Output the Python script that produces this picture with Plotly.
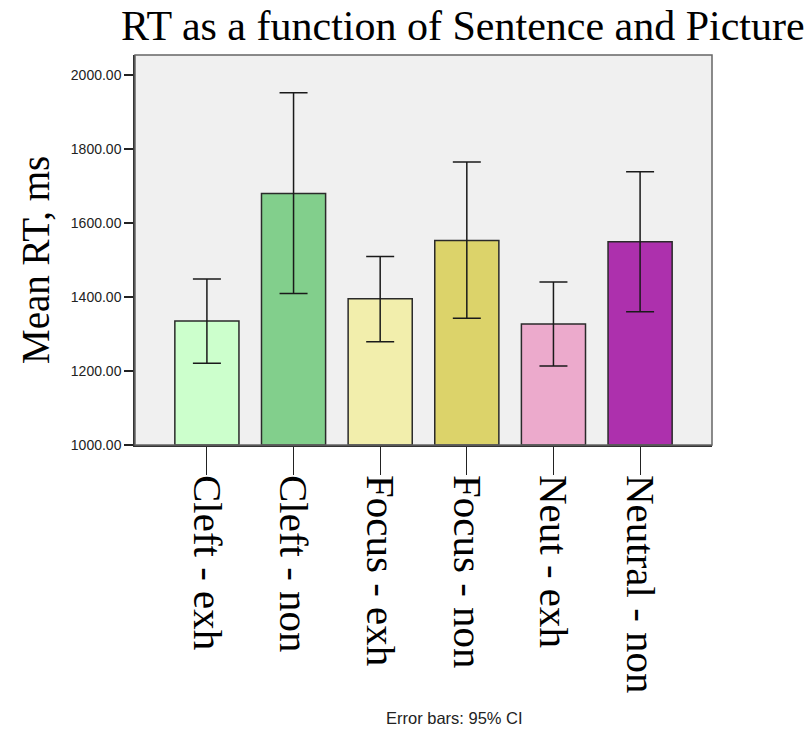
import plotly.graph_objects as go

# Mean reaction times per Sentence/Picture condition, with 95% CI bounds
conditions = ["Cleft - exh", "Cleft - non", "Focus - exh", "Focus - non", "Neut - exh", "Neutral - non"]
mean_rt = [1335, 1679, 1395, 1552, 1327, 1549]
ci_upper = [1448, 1951, 1509, 1764, 1440, 1738]
ci_lower = [1221, 1409, 1279, 1342, 1213, 1360]
bar_colors = ["#ccffcc", "#82cf8c", "#f2eeac", "#dcd36a", "#ecaacc", "#ad30ad"]
y_ticks = [1000, 1200, 1400, 1600, 1800, 2000]

err_plus = [u - m for u, m in zip(ci_upper, mean_rt)]
err_minus = [m - l for m, l in zip(mean_rt, ci_lower)]

fig = go.Figure()
fig.add_trace(go.Bar(
    x=list(range(len(conditions))),
    y=[m - 1000 for m in mean_rt],
    base=1000,
    width=0.74,
    marker=dict(color=bar_colors, line=dict(color="#2a2a2a", width=1.5)),
    error_y=dict(type="data", symmetric=False, array=err_plus, arrayminus=err_minus,
                 color="#1a1a1a", thickness=1.5, width=14),
    hoverinfo="skip",
))

fig.update_layout(
    width=810, height=730,
    margin=dict(l=135, r=98, t=55, b=285),
    paper_bgcolor="white",
    plot_bgcolor="#f0f0f0",
    showlegend=False,
    xaxis=dict(
        range=[-0.83, 5.83],
        tickmode="array",
        tickvals=list(range(len(conditions))),
        ticktext=conditions,
        tickangle=90,
        ticks="outside", ticklen=28, tickwidth=1.2, tickcolor="#222",
        ticklabelstandoff=-8,
        tickfont=dict(family="Liberation Serif", size=41, color="black"),
        showgrid=False, zeroline=False,
        showline=True, linecolor="#333", linewidth=1.5,
    ),
    yaxis=dict(
        range=[1000, 2053],
        tickmode="array",
        tickvals=y_ticks,
        ticktext=[f"{v:.2f}" for v in y_ticks],
        ticks="outside", ticklen=9, tickwidth=1.5, tickcolor="#222",
        tickfont=dict(family="Liberation Sans", size=14, color="#222"),
        showgrid=False, zeroline=False,
        showline=True, linecolor="#333", linewidth=1.5,
    ),
    shapes=[dict(type="rect", xref="paper", yref="paper", x0=0, y0=0, x1=1, y1=1,
                 line=dict(color="#666", width=1.5), fillcolor="rgba(0,0,0,0)", layer="above")],
    annotations=[
        dict(text="RT as a function of Sentence and Picture", xref="paper", yref="paper",
             x=(463 - 135) / 577, y=1 + (55 - 26) / 390, xanchor="center", yanchor="middle",
             showarrow=False, font=dict(family="Liberation Serif", size=42, color="black")),
        dict(text="Mean RT, ms", xref="paper", yref="paper",
             x=(35 - 135) / 577, y=(445 - 260) / 390, xanchor="center", yanchor="middle",
             textangle=-90, showarrow=False,
             font=dict(family="Liberation Serif", size=39, color="black")),
        dict(text="Error bars: 95% CI", xref="paper", yref="paper",
             x=(454 - 135) / 577, y=-(718 - 445) / 390, xanchor="center", yanchor="middle",
             showarrow=False, font=dict(family="Liberation Sans", size=16.5, color="#222")),
    ],
)

fig.write_html("out.html")
